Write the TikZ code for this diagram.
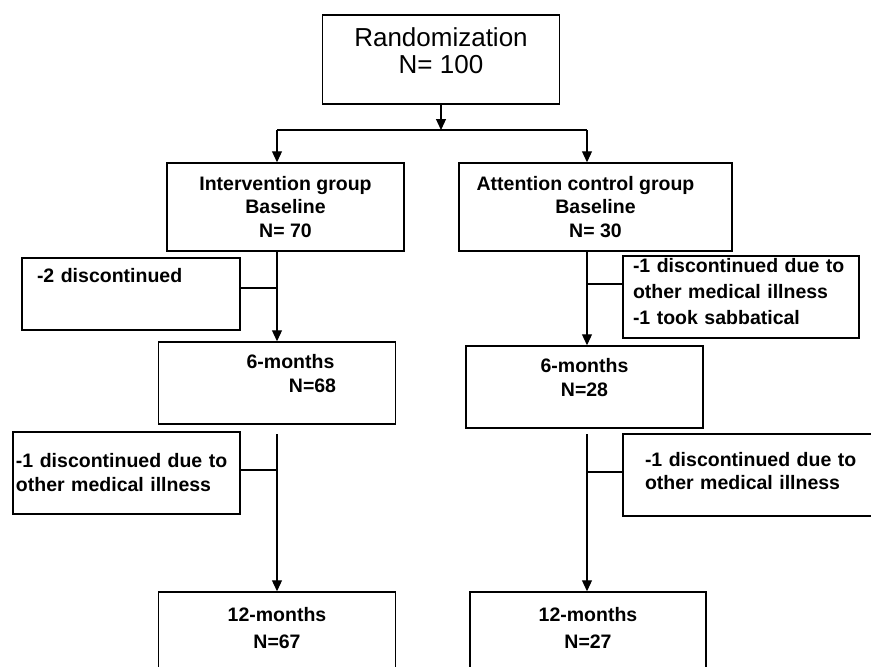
\documentclass[tikz,border=0pt]{standalone}
\usepackage{fontspec}
\setmainfont{Liberation Sans}
\usetikzlibrary{arrows.meta,positioning}

\begin{document}
\begin{tikzpicture}[
        x=1pt,y=-1pt,
        textpitch/.style={font=\bfseries\fontsize{19.5}{#1}\selectfont},
        box/.style={draw,line width=1.5pt,inner sep=0pt,align=center,textpitch=23.5},
        dropbox/.style={box,align=left},
        link/.style={line width=1.2pt},
        arr/.style={link,-{Triangle[width=10pt,length=11pt]}}
    ]
    \useasboundingbox (0,0) rectangle (871,667);
    \clip (0,0) rectangle (871,667);
    \node [box,font=\fontsize{26}{27}\selectfont,minimum width=237pt,minimum height=89pt,text depth=17pt] (rand) at (441,59.5) {Randomization\\N= 100};
    \node [box,minimum width=237pt,minimum height=88pt] (interv) at (285.5,207) {Intervention group\\Baseline\\N= 70};
    \node [box,minimum width=273pt,minimum height=88pt] (attn) at (595.5,207) {Attention control group\rule{20pt}{0pt}\\Baseline\\N= 30};
    \node [dropbox,text width=188pt,inner xsep=15pt,minimum height=72pt,text depth=36.6pt] (dropA) at (131,294) {-2 discontinued};
    \node [dropbox,textpitch=26,text width=216pt,inner xsep=10pt,minimum height=82pt,text depth=63pt] (dropB) at (741,297) {-1 discontinued due to\\other medical illness\\-1 took sabbatical};
    \node [box,textpitch=24,minimum width=237pt,minimum height=82pt,text depth=18.6pt] (sixA) at (277,383) {\rule{27pt}{0pt}6-months\\\rule{71pt}{0pt}N=68};
    \node [box,textpitch=24,minimum width=237pt,minimum height=82pt,text depth=18.6pt] (sixB) at (584.5,387) {6-months\\N=28};
    \node [dropbox,textpitch=24,text width=221pt,inner xsep=3pt,minimum height=82pt,text depth=26pt] (dropC) at (126.5,473) {-1 discontinued due to\\other medical illness};
    \node [dropbox,textpitch=23,text width=213pt,inner xsep=22pt,minimum height=82pt,text depth=31.6pt] (dropD) at (751.5,475) {-1 discontinued due to\\other medical illness};
    \node [box,textpitch=27,minimum width=237pt,minimum height=88pt,text depth=17pt] (twelveA) at (277,636) {12-months\\N=67};
    \node [box,textpitch=27,minimum width=236pt,minimum height=88pt,text depth=17pt] (twelveB) at (588,636) {12-months\\N=27};
    % fork below the randomization box
    \coordinate (forkA) at (277,130);
    \coordinate (forkB) at (587,130);
    \draw [link] (forkA) -- (forkB);
    \draw [arr] (rand) -- (rand |- forkA);
    \draw [arr] (forkA) -- (forkA |- interv.north);
    \draw [arr] (forkB) -- (forkB |- attn.north);
    \draw [arr] (forkA |- interv.south) -- (forkA |- sixA.north);
    \draw [arr] (forkB |- attn.south) -- (forkB |- sixB.north);
    \coordinate (trunkA) at (277,434);
    \coordinate (trunkB) at (587,434);
    \draw [arr] (trunkA) -- (trunkA |- twelveA.north);
    \draw [arr] (trunkB) -- (trunkB |- twelveB.north);
    % side branches to the drop-out boxes
    \coordinate (joinA) at (277,288);
    \coordinate (joinB) at (587,284);
    \coordinate (joinC) at (277,470);
    \coordinate (joinD) at (587,472);
    \foreach \j/\b/\s in {joinA/dropA/east,joinB/dropB/west,joinC/dropC/east,joinD/dropD/west} {
        \draw [link] (\j) -- (\j -| \b.\s);
    }
\end{tikzpicture}
\end{document}
